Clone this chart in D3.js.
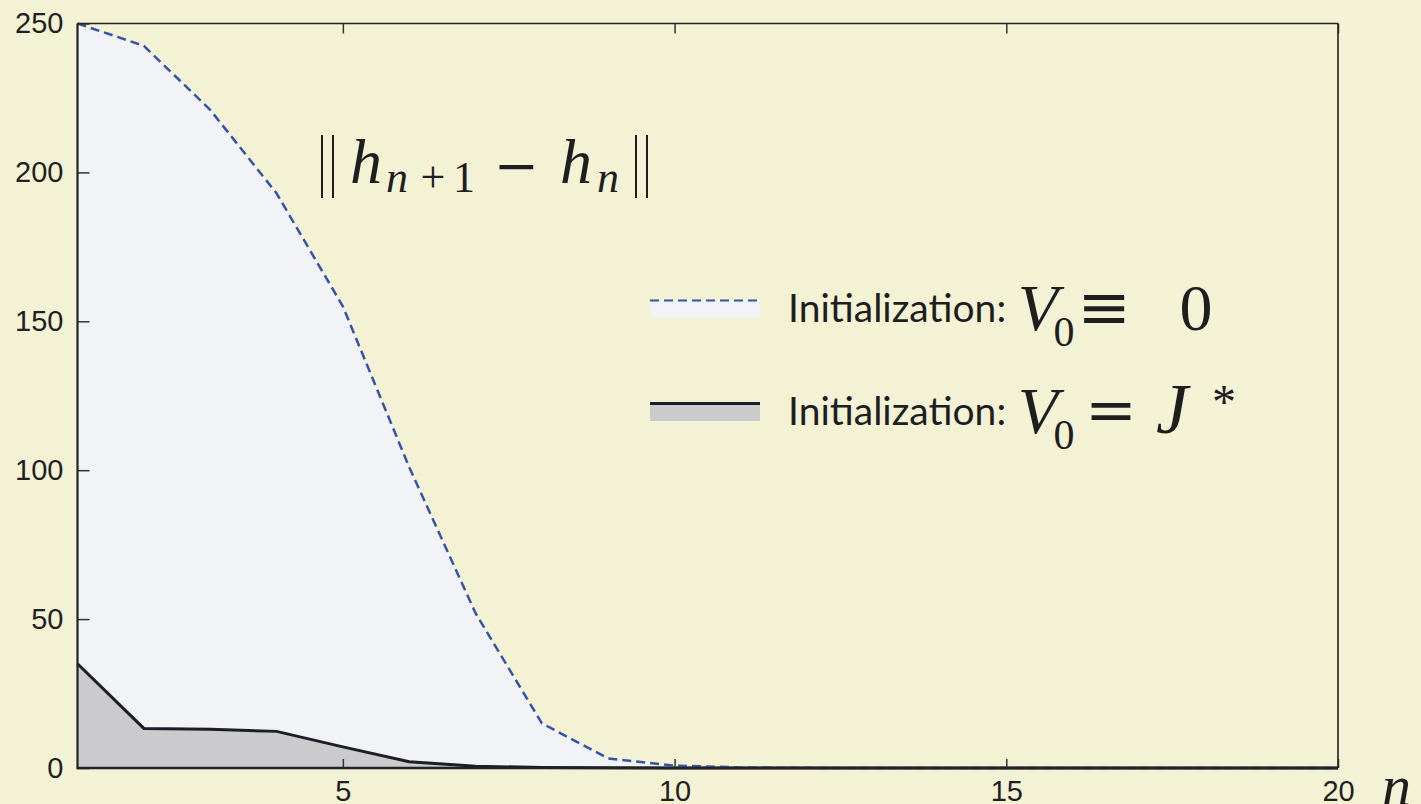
<!DOCTYPE html>
<html>
<head>
<meta charset="utf-8">
<script src="https://cdn.jsdelivr.net/npm/d3@7"></script>
<style>
  html, body { margin: 0; padding: 0; background: #f3f2d5; }
  svg { display: block; }
</style>
</head>
<body>
<svg id="chart"></svg>
<script>
// iteration index n
const iterations = [1, 2, 3, 4, 5, 6, 7, 8, 9, 10, 11, 12, 13, 14, 15, 16, 17, 18, 19, 20];
// ||h_{n+1} - h_n|| with V0 = 0
const zeroInit = [250, 242.5, 221, 193, 155, 101, 52, 15, 3.2, 0.8, 0.2, 0.05, 0, 0, 0, 0, 0, 0, 0, 0];
// ||h_{n+1} - h_n|| with V0 = J*
const optimalInit = [35, 13.3, 13.0, 12.3, 7.1, 2.1, 0.6, 0.15, 0.05, 0, 0, 0, 0, 0, 0, 0, 0, 0, 0, 0];
const xTicks = [5, 10, 15, 20];
const yTicks = [0, 50, 100, 150, 200, 250];

const width = 1421, height = 804;
const margin = { top: 23.5, right: 83, bottom: 36, left: 77.5 };

const svg = d3.select("#chart")
  .attr("width", width)
  .attr("height", height);

svg.append("rect")
  .attr("width", width)
  .attr("height", height)
  .attr("fill", "#f3f2d5");

const x = d3.scaleLinear().domain([1, 20]).range([margin.left, width - margin.right]);
const y = d3.scaleLinear().domain([0, 250]).range([height - margin.bottom, margin.top]);

const rows = iterations.map((n, i) => ({ n, a: zeroInit[i], b: optimalInit[i] }));

// filled areas
const areaA = d3.area().x(d => x(d.n)).y0(y(0)).y1(d => y(d.a));
const areaB = d3.area().x(d => x(d.n)).y0(y(0)).y1(d => y(d.b));

svg.append("path").datum(rows).attr("d", areaA).attr("fill", "#f2f3f6");
svg.append("path").datum(rows).attr("d", areaB).attr("fill", "#cbcbce");

// lines
svg.append("path").datum(rows)
  .attr("d", d3.line().x(d => x(d.n)).y(d => y(d.b)))
  .attr("fill", "none")
  .attr("stroke", "#1d1d2a")
  .attr("stroke-width", 3);

svg.append("path").datum(rows)
  .attr("d", d3.line().x(d => x(d.n)).y(d => y(d.a)))
  .attr("fill", "none")
  .attr("stroke", "#3553a8")
  .attr("stroke-width", 2.5)
  .attr("stroke-dasharray", "9,5");

// axes
const tickFont = "'Liberation Sans', Arial, sans-serif";

const yAxis = svg.append("g")
  .attr("transform", `translate(${margin.left},0)`)
  .call(d3.axisLeft(y).tickValues(yTicks).tickSize(-12).tickPadding(14).tickSizeOuter(0));

const xAxis = svg.append("g")
  .attr("transform", `translate(0,${y(0)})`)
  .call(d3.axisBottom(x).tickValues(xTicks).tickSize(-9).tickPadding(12).tickSizeOuter(0));

const topAxis = svg.append("g")
  .attr("transform", `translate(0,${margin.top})`)
  .call(d3.axisTop(x).tickValues(xTicks).tickSize(-10).tickFormat("").tickSizeOuter(0));

[yAxis, xAxis, topAxis].forEach(g => {
  g.select(".domain").remove();
  g.selectAll(".tick line").attr("stroke", "#333").attr("stroke-width", 1.5);
  g.selectAll(".tick text")
    .attr("fill", "#231f20")
    .style("font-family", tickFont)
    .style("font-size", "29px");
});

// frame
const x0 = x(1), x1 = x(20), yb = y(0), yt = y(250);
svg.append("line").attr("x1", x0).attr("x2", x1).attr("y1", yt).attr("y2", yt)
  .attr("stroke", "#222").attr("stroke-width", 1.6);
svg.append("line").attr("x1", x1).attr("x2", x1).attr("y1", yt).attr("y2", yb)
  .attr("stroke", "#222").attr("stroke-width", 1.6);
svg.append("line").attr("x1", x0).attr("x2", x0).attr("y1", yt).attr("y2", yb + 1.2)
  .attr("stroke", "#222").attr("stroke-width", 2.2);
svg.append("line").attr("x1", x0).attr("x2", x1).attr("y1", yb).attr("y2", yb)
  .attr("stroke", "#222").attr("stroke-width", 2.5);

// math labels
const serif = "'Liberation Serif', 'Times New Roman', serif";
const symFont = "'DejaVu Serif', serif";
const ink = "#1e1e1e";

// x-axis name
svg.append("text")
  .attr("x", 1382).attr("y", 805)
  .style("font-family", serif).style("font-style", "italic").style("font-size", "58px")
  .attr("fill", ink)
  .text("n");

// title ||h_{n+1} - h_n||
const title = svg.append("g").attr("fill", ink).attr("text-anchor", "middle").style("font-family", serif);
function bars(xp) {
  title.append("line").attr("x1", xp).attr("x2", xp).attr("y1", 135).attr("y2", 198)
    .attr("stroke", ink).attr("stroke-width", 2);
  title.append("line").attr("x1", xp + 11).attr("x2", xp + 11).attr("y1", 135).attr("y2", 198)
    .attr("stroke", ink).attr("stroke-width", 2);
}
bars(322);
bars(636);
function glyph(t, cx, base, size, italic, family) {
  title.append("text").attr("x", cx).attr("y", base)
    .style("font-family", family || serif)
    .style("font-style", italic ? "italic" : "normal")
    .style("font-size", size + "px")
    .text(t);
}
glyph("h", 366, 183, 64, true);
glyph("n", 397, 192, 44, true);
glyph("+", 433, 192, 44, false);
glyph("1", 464, 192, 44, false);
glyph("\u2212", 516, 184, 54, false, symFont);
glyph("h", 576, 183, 64, true);
glyph("n", 608, 192, 44, true);

// legend
const legend = svg.append("g");
const lx0 = 650, lx1 = 760;

legend.append("rect").attr("x", lx0).attr("y", 300).attr("width", lx1 - lx0).attr("height", 18)
  .attr("fill", "#f2f3f6");
legend.append("line").attr("x1", lx0).attr("x2", lx1).attr("y1", 300.5).attr("y2", 300.5)
  .attr("stroke", "#3553a8").attr("stroke-width", 2).attr("stroke-dasharray", "9,5");

legend.append("rect").attr("x", lx0).attr("y", 403).attr("width", lx1 - lx0).attr("height", 18)
  .attr("fill", "#cbcbce");
legend.append("line").attr("x1", lx0).attr("x2", lx1).attr("y1", 403.5).attr("y2", 403.5)
  .attr("stroke", "#1d1d2a").attr("stroke-width", 3);

const sans = "Lato, 'Open Sans', sans-serif";
[322, 425].forEach(b => {
  legend.append("text").attr("x", 788).attr("y", b)
    .style("font-family", sans).style("font-size", "39px").attr("fill", ink)
    .text("Initialization:");
});

function sym(t, cx, base, size, italic, family) {
  legend.append("text").attr("x", cx).attr("y", base)
    .attr("text-anchor", "middle")
    .style("font-family", family || serif)
    .style("font-style", italic ? "italic" : "normal")
    .style("font-size", size + "px")
    .attr("fill", ink)
    .text(t);
}

// V_0 ≡ 0
sym("V", 1038, 330, 66, true);
sym("0", 1064, 346, 42, false);
sym("\u2261", 1104, 329, 64, false, symFont);
sym("0", 1196, 330, 66, false);

// V_0 = J*
sym("V", 1038, 433, 66, true);
sym("0", 1064, 449, 42, false);
sym("=", 1111, 431, 62, false, symFont);
sym("J", 1172, 433, 72, true);
sym("*", 1224, 418, 48, false);
</script>
</body>
</html>
